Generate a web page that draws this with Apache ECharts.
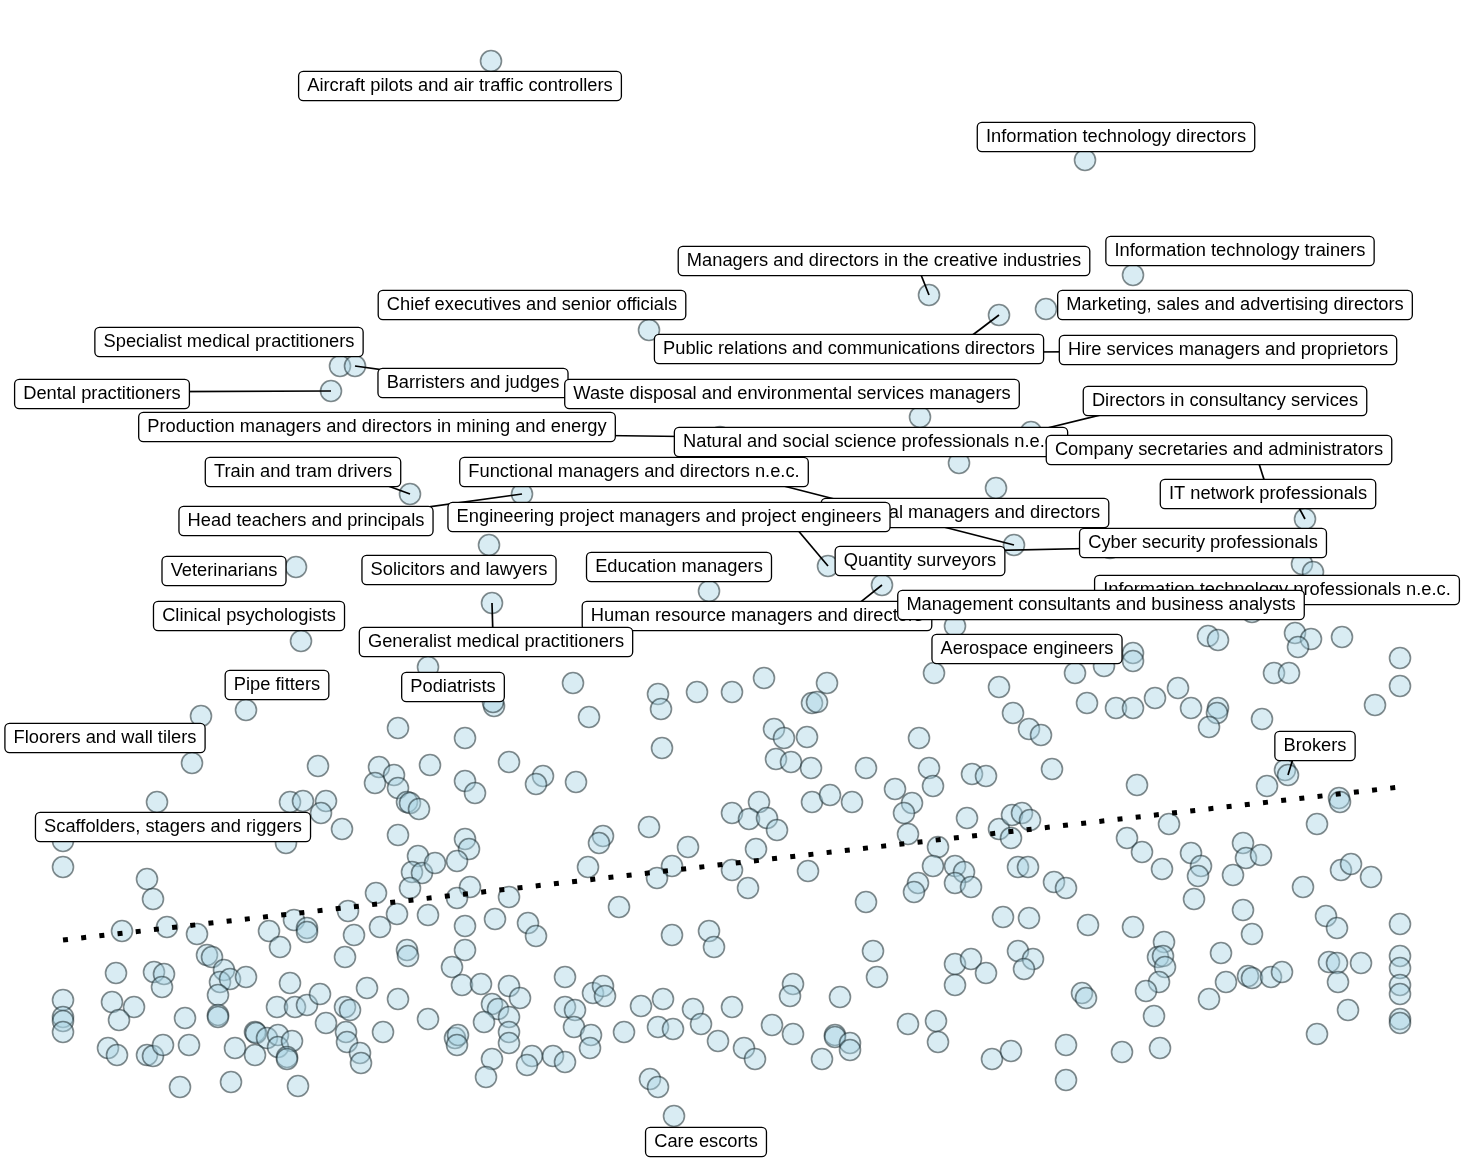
<!DOCTYPE html>
<html>
<head>
<meta charset="utf-8">
<script src="https://cdn.jsdelivr.net/npm/echarts@6/dist/echarts.min.js"></script>
<style>
  html, body { margin: 0; padding: 0; background: #fff; }
  #chart { width: 1475px; height: 1164px; }
</style>
</head>
<body>
<div id="chart"></div>
<script>
// occupations without a label: [x, y] (x to the right, y downwards)
const otherPoints = [
  [318,766],[157,802],[290,802],[303,801],[326,801],[321,813],[342,829],[286,843],[63,867],[192,763],
  [428,667],[573,683],[658,694],[661,709],[697,692],[732,692],[589,717],[398,728],[465,738],[662,748],
  [379,767],[430,765],[509,762],[394,775],[375,783],[398,788],[465,781],[475,793],[543,776],[536,784],
  [576,782],[407,802],[410,803],[419,809],[398,835],[465,839],[469,849],[418,856],[603,836],[599,843],
  [649,827],[688,847],[732,813],[494,706],
  [764,678],[827,683],[812,703],[817,702],[999,687],[1075,673],[1087,703],[1104,666],[774,729],[784,738],
  [807,737],[919,738],[1013,713],[1029,729],[1041,735],[776,759],[791,762],[811,768],[866,768],[929,768],
  [933,786],[972,774],[986,776],[1052,769],[759,802],[812,802],[830,795],[852,802],[895,789],[912,803],
  [904,813],[908,834],[749,819],[767,818],[777,830],[756,849],[967,818],[938,847],[999,829],[1012,815],
  [1022,813],[1030,820],[1011,838],
  [1208,636],[1218,640],[1295,633],[1311,639],[1298,647],[1342,637],[1400,658],[1400,686],[1133,653],[1133,661],
  [1274,673],[1289,673],[1375,705],[1116,708],[1133,708],[1155,698],[1178,688],[1191,708],[1218,708],[1217,713],
  [1209,727],[1262,719],[1285,770],[1267,786],[1137,785],[1339,798],[1340,802],[1317,824],[1169,824],[1127,838],
  [1142,852],[1191,853],[1243,843],[1252,612],
  [147,879],[153,899],[122,931],[167,927],[197,934],[269,931],[280,947],[294,920],[307,928],[307,932],
  [348,911],[354,935],[345,957],[116,973],[154,972],[164,974],[162,987],[207,955],[212,957],[224,970],
  [220,982],[230,979],[246,977],[218,995],[290,983],[63,1000],[63,1017],[63,1021],[63,1032],[112,1002],
  [134,1007],[119,1020],[185,1018],[218,1015],[218,1017],[277,1007],[295,1007],[307,1005],[320,994],[345,1007],
  [350,1010],[326,1023],[367,988],[346,1032],[347,1042],[360,1053],[361,1063],[108,1048],[117,1055],[147,1055],
  [153,1056],[163,1045],[189,1045],[235,1048],[255,1032],[256,1033],[267,1038],[278,1035],[278,1047],[292,1041],
  [255,1055],[287,1057],[287,1059],[180,1087],[231,1082],[298,1086],
  [412,872],[422,873],[435,863],[457,861],[588,867],[672,866],[657,878],[732,870],[410,888],[376,893],
  [470,887],[457,898],[509,897],[397,914],[380,927],[428,915],[465,926],[495,919],[528,923],[536,936],
  [619,907],[407,950],[408,956],[465,950],[452,967],[462,985],[481,984],[509,986],[520,998],[492,1004],
  [498,1009],[509,1017],[484,1022],[509,1032],[509,1043],[565,977],[593,993],[603,986],[605,996],[565,1007],
  [575,1010],[574,1027],[591,1035],[590,1048],[398,999],[428,1019],[383,1032],[455,1038],[458,1035],[457,1045],
  [492,1059],[486,1077],[532,1056],[527,1065],[553,1056],[565,1062],[624,1032],[641,1006],[663,999],[658,1027],
  [673,1029],[693,1009],[701,1024],[718,1041],[732,1007],[744,1048],[672,935],[709,931],[714,947],[650,1079],
  [658,1087],
  [808,871],[748,888],[866,902],[933,866],[955,866],[964,872],[955,883],[971,887],[918,883],[914,892],
  [1018,867],[1028,867],[1054,882],[1066,888],[1003,917],[1029,918],[1088,925],[873,951],[877,977],[955,964],
  [971,959],[986,973],[955,985],[1018,951],[1033,959],[1024,969],[1082,993],[1086,998],[793,984],[790,996],
  [840,997],[772,1025],[793,1034],[835,1035],[835,1037],[850,1043],[850,1050],[755,1059],[822,1059],[908,1024],
  [936,1021],[938,1042],[992,1059],[1011,1051],[1066,1045],[1066,1080],
  [1162,869],[1201,866],[1198,876],[1233,875],[1246,858],[1261,855],[1194,899],[1243,910],[1252,934],[1303,887],
  [1341,870],[1351,864],[1371,877],[1326,916],[1337,928],[1400,924],[1133,927],[1164,942],[1158,957],[1163,956],
  [1165,967],[1159,982],[1146,991],[1154,1016],[1122,1052],[1160,1048],[1221,953],[1226,982],[1209,999],[1248,976],
  [1252,978],[1271,977],[1282,972],[1329,962],[1337,963],[1361,963],[1338,982],[1400,956],[1400,968],[1400,985],
  [1400,994],[1348,1010],[1400,1019],[1400,1023],[1317,1034]
];

// labelled occupations
const labelledNames = [
  'Aircraft pilots and air traffic controllers',
  'Information technology directors',
  'Information technology trainers',
  'Managers and directors in the creative industries',
  'Chief executives and senior officials',
  'Marketing, sales and advertising directors',
  'Public relations and communications directors',
  'Hire services managers and proprietors',
  'Specialist medical practitioners',
  'Barristers and judges',
  'Dental practitioners',
  'Waste disposal and environmental services managers',
  'Production managers and directors in mining and energy',
  'Directors in consultancy services',
  'Natural and social science professionals n.e.c.',
  'Company secretaries and administrators',
  'Train and tram drivers',
  'Functional managers and directors n.e.c.',
  'Financial managers and directors',
  'IT network professionals',
  'Head teachers and principals',
  'Engineering project managers and project engineers',
  'Cyber security professionals',
  'Quantity surveyors',
  'Solicitors and lawyers',
  'Veterinarians',
  'Education managers',
  'Information technology professionals n.e.c.',
  'Human resource managers and directors',
  'Management consultants and business analysts',
  'Clinical psychologists',
  'Generalist medical practitioners',
  'Aerospace engineers',
  'Pipe fitters',
  'Podiatrists',
  'Floorers and wall tilers',
  'Brokers',
  'Scaffolders, stagers and riggers',
  'Care escorts'
];
const labelledPoints = [
  [491,61],[1085,160],[1133,275],[929,295],[649,330],[1046,309],[999,315],[1032,352],
  [340,366],[355,366],[331,391],[920,417],[720,437],[1031,432],[959,463],[1268,492],
  [410,494],[1014,545],[996,488],[1305,519],[522,494],[828,566],[1302,564],[1110,548],
  [489,545],[296,567],[709,591],[1313,572],[882,585],[955,626],[301,641],[492,603],
  [934,673],[246,710],[493,702],[201,716],[1288,775],[63,841],[674,1116]
];

// fitted trend line end points
const trendLine = [[63,940],[1400,787]];

// where each label box sits (centre) and whether it has a leader line
const labelSpots = [
  [460,86],[1116,137],[1240,251],[884,261],[532,305],[1235,305],[849,349],[1228,350],
  [229,342],[473,383],[102,394],[792,394],[377,427],[1225,401],[871,442],[1219,450],
  [303,472],[634,472],[965,513],[1268,494],[306,521],[669,517],[1203,543],[920,561],
  [459,570],[224,571],[679,567],[1277,590],[757,616],[1101,605],[249,616],[496,642],
  [1027,649],[277,685],[453,687],[105,738],[1315,746],[173,827],[706,1142]
];
const hasLeader = [
  0,0,0,1,0,0,1,1, 0,1,1,0,1,1,0,1, 1,1,0,1,1,1,0,1,
  0,0,0,0,1,0,0,1, 0,0,0,0,1,0,0
];

const LABEL_FONT_SIZE = 18.3;
const LABEL_FAMILY = "'Liberation Sans', Arial, Helvetica, sans-serif";

// leader lines: from the point towards the label box edge nearest to it
const measure = document.createElement('canvas').getContext('2d');
measure.font = LABEL_FONT_SIZE + 'px ' + LABEL_FAMILY;
const leaderLines = [];
labelledNames.forEach(function (name, i) {
  if (!hasLeader[i]) return;
  const p = labelledPoints[i];
  const c = labelSpots[i];
  const hw = measure.measureText(name).width / 2 + 8;
  const hh = 14;
  const qx = Math.min(Math.max(p[0], c[0] - hw), c[0] + hw);
  const qy = Math.min(Math.max(p[1], c[1] - hh), c[1] + hh);
  leaderLines.push({ coords: [p, [c[0] + 0.8 * (qx - c[0]), c[1] + 0.8 * (qy - c[1])]] });
});

const chart = echarts.init(document.getElementById('chart'), null, { renderer: 'canvas' });

const option = {
  animation: false,
  backgroundColor: '#fff',
  grid: { left: 0, right: 0, top: 0, bottom: 0 },
  xAxis: { type: 'value', min: 0, max: 1475, show: false },
  yAxis: { type: 'value', min: 0, max: 1164, inverse: true, show: false },
  series: [
    {
      type: 'scatter',
      silent: true,
      z: 2,
      symbol: 'circle',
      symbolSize: 21,
      itemStyle: {
        color: 'rgba(168, 212, 228, 0.55)',
        borderColor: 'rgba(25, 40, 45, 0.68)',
        borderWidth: 1.6
      },
      data: otherPoints.concat(labelledPoints)
    },
    {
      type: 'line',
      silent: true,
      z: 3,
      showSymbol: false,
      symbol: 'none',
      data: trendLine,
      lineStyle: { color: '#000', width: 5, type: [5, 13.3], cap: 'butt' }
    },
    {
      type: 'lines',
      coordinateSystem: 'cartesian2d',
      silent: true,
      z: 3,
      data: leaderLines,
      lineStyle: { color: '#000', width: 1.7, opacity: 1, curveness: 0 }
    },
    {
      type: 'scatter',
      silent: true,
      zlevel: 1,
      z: 4,
      symbolSize: 1,
      itemStyle: { color: '#fff', opacity: 1 },
      label: {
        show: true,
        position: 'inside',
        formatter: '{b}',
        color: '#000',
        opacity: 1,
        fontSize: LABEL_FONT_SIZE,
        fontFamily: LABEL_FAMILY,
        lineHeight: 20,
        backgroundColor: '#fff',
        borderColor: '#000',
        borderWidth: 1.3,
        borderRadius: 4,
        padding: [5, 8, 3, 8]
      },
      data: labelledNames.map(function (name, i) {
        return { name: name, value: labelSpots[i] };
      })
    }
  ]
};

chart.setOption(option);
</script>
</body>
</html>
